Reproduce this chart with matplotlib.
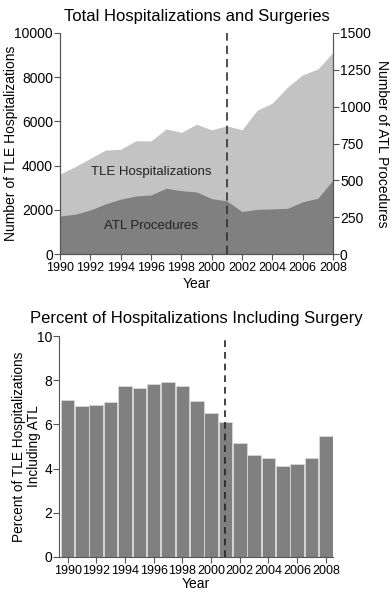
import numpy as np
import matplotlib
matplotlib.use("Agg")
import matplotlib.pyplot as plt

plt.rcParams['font.family'] = ['Liberation Sans', 'DejaVu Sans']

# === dati ===
years = list(range(1990, 2009))
tle_hosp = [3620, 3950, 4330, 4700, 4740, 5120, 5120, 5660, 5500, 5870,
            5620, 5800, 5620, 6500, 6830, 7550, 8110, 8370, 9120]
atl_proc = [258, 270, 299, 340, 372, 394, 401, 446, 430, 421,
            376, 360, 288, 303, 306, 310, 354, 378, 503]
pct_atl = [7.10, 6.82, 6.88, 7.01, 7.74, 7.66, 7.83, 7.90, 7.74, 7.06,
           6.50, 6.09, 5.17, 4.62, 4.48, 4.10, 4.21, 4.46, 5.49]
cutoff_year = 2001
even_years = years[::2]

light = '#c3c3c3'
dark = '#808080'
spine_col = '#555555'

fig = plt.figure(figsize=(3.92, 5.92), dpi=100)

# === 1. grafico ad area ===
ax1 = fig.add_axes([60/392, 1 - 254/592, 273/392, 221/592])
ax1.fill_between(years, 0, tle_hosp, color=light, lw=0)
atl_scaled = np.array(atl_proc) * 10000 / 1500
ax1.fill_between(years, 0, atl_scaled, color=dark, lw=0)
ax1.axvline(cutoff_year, color='#333333', ls=(0, (5, 3)), lw=1.2)
ax1.set_xlim(1990, 2008)
ax1.set_ylim(0, 10000)
ax1.set_xticks(even_years)
ax1.set_yticks(range(0, 10001, 2000))
ax1.tick_params(axis='x', labelsize=9, direction='out', length=4, width=0.8, pad=2, color=spine_col)
ax1.tick_params(axis='y', labelsize=10, direction='out', length=4, width=0.8, pad=1, color=spine_col)
ax1.set_xlabel('Year', fontsize=10, labelpad=2)
ax1.set_ylabel('Number of TLE Hospitalizations', fontsize=10, va='center')
ax1.yaxis.set_label_coords(-0.18, 0.5)
ax1.spines['top'].set_visible(False)
ax1.set_title('Total Hospitalizations and Surgeries', fontsize=12, pad=9)
ax1.text(1996, 3700, 'TLE Hospitalizations', ha='center', va='center', fontsize=9.5, color='#222222')
ax1.text(1996, 1250, 'ATL Procedures', ha='center', va='center', fontsize=9.5, color='#222222')

ax2 = ax1.twinx()
ax2.set_ylim(0, 1500)
ax2.set_yticks(range(0, 1501, 250))
ax2.tick_params(labelsize=10, direction='out', length=4, width=0.8, pad=1, color=spine_col)
ax2.set_ylabel('Number of ATL Procedures', fontsize=10, rotation=270, va='center')
ax2.yaxis.set_label_coords(1.18, 0.5)
ax2.spines['top'].set_visible(False)
for s in ['left', 'bottom', 'right']:
    ax1.spines[s].set_color(spine_col)
    ax2.spines[s].set_color(spine_col)

# === 2. grafico a barre ===
ax3 = fig.add_axes([59/392, 1 - 557/592, 274/392, 221/592])
ax3.bar(years, pct_atl, width=0.95, color=dark, edgecolor='#d8d8d8', lw=0.6)
ax3.plot([cutoff_year, cutoff_year], [0, 9.9], color='#222222', ls=(0, (4, 3)), lw=1.2)
ax3.set_xlim(1989.4, 2008.5)
ax3.set_ylim(0, 10)
ax3.set_xticks(even_years)
ax3.set_yticks(range(0, 11, 2))
ax3.tick_params(axis='x', labelsize=9, direction='out', length=4, width=0.8, pad=2, color=spine_col)
ax3.tick_params(axis='y', labelsize=10, direction='out', length=4, width=0.8, pad=1, color=spine_col)
ax3.set_xlabel('Year', fontsize=10, labelpad=0)
ax3.set_ylabel('Percent of TLE Hospitalizations\nIncluding ATL', fontsize=9.8, linespacing=1.1, va='center')
ax3.yaxis.set_label_coords(-0.12, 0.5)
ax3.spines['top'].set_visible(False)
ax3.spines['right'].set_visible(False)
for s in ['left', 'bottom']:
    ax3.spines[s].set_color(spine_col)
ax3.set_title('Percent of Hospitalizations Including Surgery', fontsize=12, pad=9)

plt.savefig('out.png', dpi=100)
